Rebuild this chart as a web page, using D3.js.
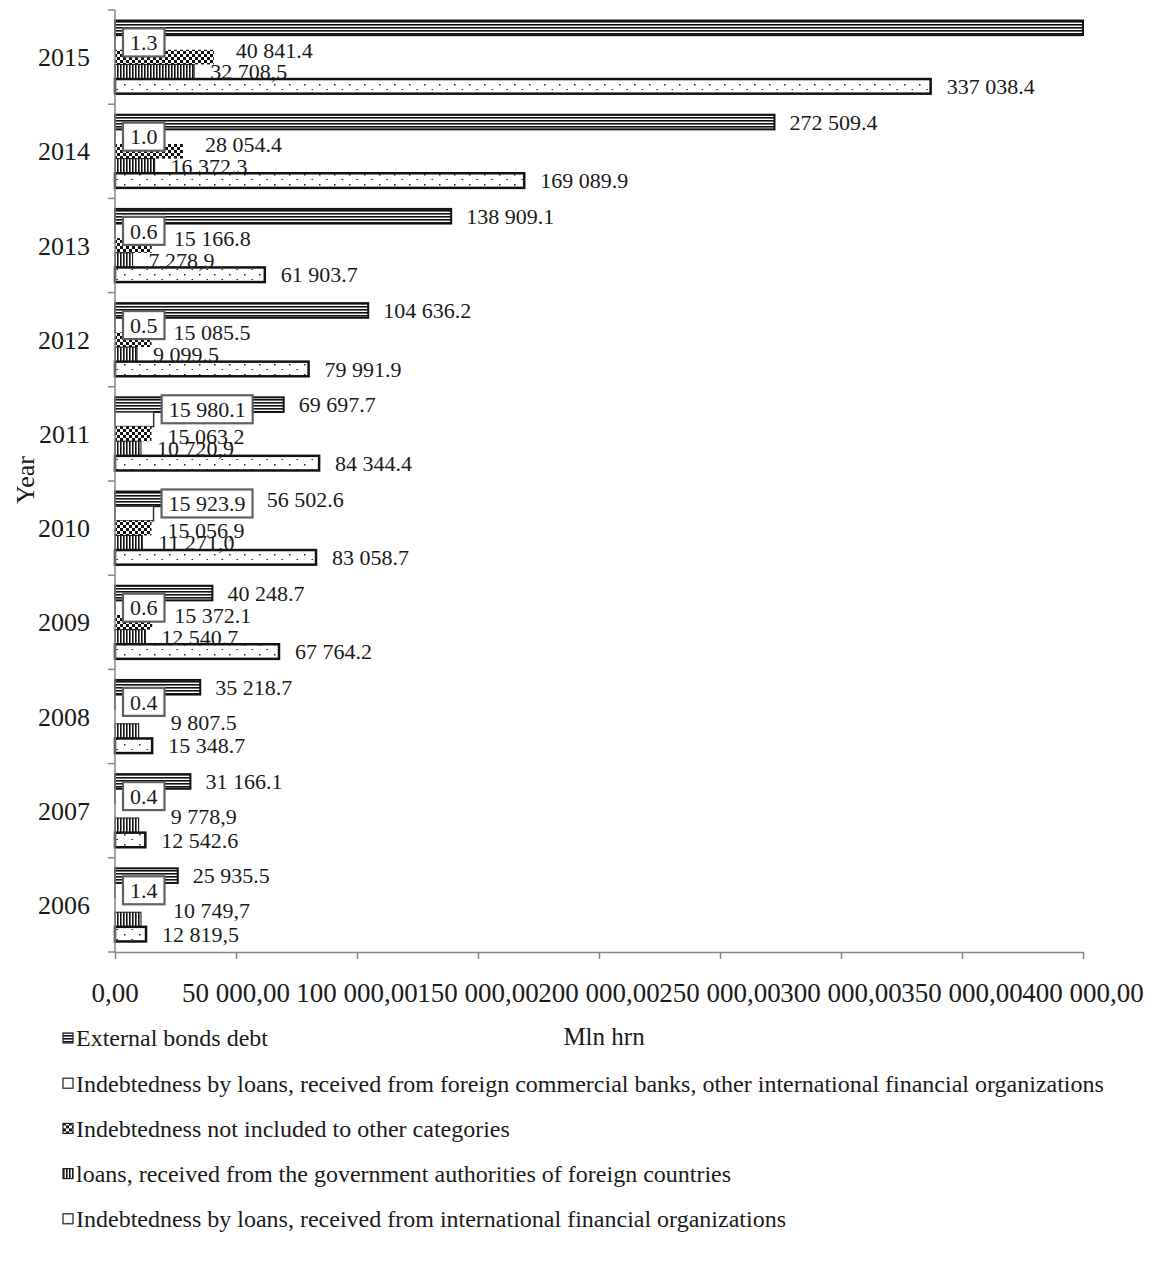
<!DOCTYPE html>
<html>
<head>
<meta charset="utf-8">
<script src="https://cdn.jsdelivr.net/npm/d3@7/dist/d3.min.js"></script>
<style>
  body { margin: 0; background: #fff; }
  svg text { font-family: "Liberation Serif", "Times New Roman", serif; fill: #1a1a1a; }
</style>
</head>
<body>
<div id="chart"></div>
<script>
// years, top to bottom as in the picture
var years = ["2015", "2014", "2013", "2012", "2011", "2010", "2009", "2008", "2007", "2006"];

var seriesNames = [
  "External bonds debt",
  "Indebtedness by loans, received from foreign commercial banks, other international financial organizations",
  "Indebtedness not included to other categories",
  "loans, received from the government authorities of foreign countries",
  "Indebtedness by loans, received from international financial organizations"
];

// values in mln hrn, same order as years (2015 ... 2006)
var externalBonds   = [400000, 272509.4, 138909.1, 104636.2, 69697.7, 56502.6, 40248.7, 35218.7, 31166.1, 25935.5];
var commercialBanks = [1.3, 1.0, 0.6, 0.5, 15980.1, 15923.9, 0.6, 0.4, 0.4, 1.4];
var notIncluded     = [40841.4, 28054.4, 15166.8, 15085.5, 15063.2, 15056.9, 15372.1, 0, 0, 0];
var govLoans        = [32708.5, 16372.3, 7278.9, 9099.5, 10720.9, 11271.0, 12540.7, 9807.5, 9778.9, 10749.7];
var intlOrgs        = [337038.4, 169089.9, 61903.7, 79991.9, 84344.4, 83058.7, 67764.2, 15348.7, 12542.6, 12819.5];

// data label texts as printed (2015 external bonds bar runs off the axis, no label)
var externalLabels   = ["", "272 509.4", "138 909.1", "104 636.2", "69 697.7", "56 502.6", "40 248.7", "35 218.7", "31 166.1", "25 935.5"];
var commercialLabels = ["1.3", "1.0", "0.6", "0.5", "15 980.1", "15 923.9", "0.6", "0.4", "0.4", "1.4"];
var notIncludedLabels = ["40 841.4", "28 054.4", "15 166.8", "15 085.5", "15 063,2", "15 056,9", "15 372.1", "", "", ""];
var govLoansLabels   = ["32 708,5", "16 372.3", "7 278,9", "9 099.5", "10 720,9", "11 271,0", "12 540.7", "9 807.5", "9 778,9", "10 749,7"];
var intlOrgsLabels   = ["337 038.4", "169 089.9", "61 903.7", "79 991.9", "84 344.4", "83 058.7", "67 764.2", "15 348.7", "12 542.6", "12 819,5"];

var xTicks = [0, 50000, 100000, 150000, 200000, 250000, 300000, 350000, 400000];

var series = [
  { key: "ext", name: seriesNames[0], values: externalBonds,   labels: externalLabels,    fill: "url(#pHoriz)", stroke: "#111", sw: 2,   dx: 15, dy: 0 },
  { key: "com", name: seriesNames[1], values: commercialBanks, labels: commercialLabels,  fill: "#fff",         stroke: "#333", sw: 1.5, dx: 8,  dy: 0 },
  { key: "oth", name: seriesNames[2], values: notIncluded,     labels: notIncludedLabels, fill: "url(#pCheck)", stroke: "none", sw: 0,   dx: 22, dy: -7 },
  { key: "gov", name: seriesNames[3], values: govLoans,        labels: govLoansLabels,    fill: "url(#pVert)",  stroke: "#111", sw: 1,   dx: 16, dy: 0 },
  { key: "ifo", name: seriesNames[4], values: intlOrgs,        labels: intlOrgsLabels,    fill: "url(#pDots)",  stroke: "#111", sw: 2.5, dx: 16, dy: 0 }
];

var width = 1150, height = 1269;
var labelSize = 22;
var svg = d3.select("#chart").append("svg")
  .attr("width", width)
  .attr("height", height);

// fill patterns
var defs = svg.append("defs");
var ph = defs.append("pattern").attr("id", "pHoriz").attr("patternUnits", "userSpaceOnUse").attr("width", 4).attr("height", 3);
ph.append("rect").attr("width", 4).attr("height", 3).attr("fill", "#fff");
ph.append("rect").attr("width", 4).attr("height", 1.6).attr("fill", "#111");

var pc = defs.append("pattern").attr("id", "pCheck").attr("patternUnits", "userSpaceOnUse").attr("width", 6).attr("height", 6);
pc.append("rect").attr("width", 6).attr("height", 6).attr("fill", "#fff");
pc.append("rect").attr("width", 3).attr("height", 3).attr("fill", "#111");
pc.append("rect").attr("x", 3).attr("y", 3).attr("width", 3).attr("height", 3).attr("fill", "#111");

var pv = defs.append("pattern").attr("id", "pVert").attr("patternUnits", "userSpaceOnUse").attr("width", 3).attr("height", 4);
pv.append("rect").attr("width", 3).attr("height", 4).attr("fill", "#fff");
pv.append("rect").attr("width", 1.6).attr("height", 4).attr("fill", "#111");

var pd = defs.append("pattern").attr("id", "pDots").attr("patternUnits", "userSpaceOnUse").attr("width", 15).attr("height", 10);
pd.append("rect").attr("width", 15).attr("height", 10).attr("fill", "#fff");
pd.append("rect").attr("x", 4).attr("y", 4).attr("width", 1.5).attr("height", 1.5).attr("fill", "#222");
pd.append("rect").attr("x", 11.5).attr("y", 9).attr("width", 1.5).attr("height", 1.5).attr("fill", "#222");

// scales
var x = d3.scaleLinear().domain([0, 400000]).range([115, 1083]).clamp(true);
var y0 = d3.scaleBand().domain(years).range([10, 952]).padding(0);
var y1 = d3.scaleBand().domain(series.map(function(s){ return s.key; }))
  .range([0, y0.bandwidth()]).paddingInner(0).paddingOuter(0.72);

function barMid(s, yr) { return y0(yr) + y1(s.key) + y1.bandwidth() / 2; }

// bars
series.forEach(function(s) {
  var g = svg.append("g").attr("class", "series-" + s.key);
  g.selectAll("rect")
    .data(years.map(function(yr, i){ return { year: yr, v: s.values[i] }; }).filter(function(d){ return d.v > 0; }))
    .enter().append("rect")
    .attr("x", x(0))
    .attr("y", function(d){ return y0(d.year) + y1(s.key); })
    .attr("width", function(d){ return x(d.v) - x(0); })
    .attr("height", y1.bandwidth())
    .attr("fill", s.fill)
    .attr("stroke", s.stroke)
    .attr("stroke-width", s.sw);
});

// axes
var axisColor = "#868686";
var xAxis = svg.append("g")
  .attr("transform", "translate(0,952)")
  .call(d3.axisBottom(x).tickValues(xTicks).tickSize(7).tickSizeOuter(0).tickFormat(""));
xAxis.selectAll("line, path").attr("stroke", axisColor).attr("stroke-width", 1.5);

var fmt = d3.format(",.2f");
svg.append("g").selectAll("text")
  .data(xTicks)
  .enter().append("text")
  .attr("x", function(d){ return x(d); })
  .attr("y", 1002)
  .attr("text-anchor", "middle")
  .style("font-size", "27px")
  .text(function(d){ return fmt(d).replace(/,/g, " ").replace(".", ","); });

var yAxis = svg.append("g");
yAxis.append("line")
  .attr("x1", x(0)).attr("x2", x(0))
  .attr("y1", 10).attr("y2", 952)
  .attr("stroke", axisColor).attr("stroke-width", 1.5);
yAxis.selectAll(".ytick")
  .data(years.concat(["end"]))
  .enter().append("line")
  .attr("class", "ytick")
  .attr("x1", x(0) - 7).attr("x2", x(0))
  .attr("y1", function(d){ return d === "end" ? 952 : y0(d); })
  .attr("y2", function(d){ return d === "end" ? 952 : y0(d); })
  .attr("stroke", axisColor).attr("stroke-width", 1.5);

svg.append("g").selectAll("text")
  .data(years)
  .enter().append("text")
  .attr("x", 90)
  .attr("y", function(d){ return y0(d) + y0.bandwidth() / 2; })
  .attr("dy", "0.35em")
  .attr("text-anchor", "end")
  .style("font-size", "26px")
  .text(function(d){ return d; });

// data labels
var labelLayer = svg.append("g").attr("class", "labels");
function addLabel(t, lx, cy) {
  return labelLayer.append("text")
    .attr("x", lx).attr("y", cy).attr("dy", "0.35em")
    .style("font-size", labelSize + "px")
    .text(t);
}

var sExt = series[0], sCom = series[1], sOth = series[2], sGov = series[3], sIfo = series[4];
years.forEach(function(yr, i) {
  // boxed label of the commercial banks series
  var boxX = x(sCom.values[i]) + sCom.dx;
  var probe = addLabel(sCom.labels[i], boxX + 7, 0);
  var tw = probe.node().getComputedTextLength();
  var boxW = tw + 14, boxH = 28;
  var othLabelX = x(sOth.values[i]) + sOth.dx;
  var crowded = sOth.values[i] > 0 && boxX + boxW > othLabelX;
  var boxMid = barMid(sCom, yr) + (crowded ? -10 : 0);
  labelLayer.insert("rect", "text")
    .attr("x", boxX).attr("y", boxMid - boxH / 2)
    .attr("width", boxW).attr("height", boxH)
    .attr("fill", "#fff").attr("stroke", "#606060").attr("stroke-width", 2.2);
  probe.attr("y", boxMid);

  if (sExt.labels[i]) addLabel(sExt.labels[i], x(sExt.values[i]) + sExt.dx, barMid(sExt, yr) + sExt.dy);
  if (sOth.labels[i]) {
    if (crowded) addLabel(sOth.labels[i], x(sOth.values[i]) + 16, barMid(sOth, yr) + 2);
    else addLabel(sOth.labels[i], othLabelX, barMid(sOth, yr) + sOth.dy);
  }
  // without the checker bar the gov loans label sits higher and further right
  if (sOth.values[i] > 0) addLabel(sGov.labels[i], x(sGov.values[i]) + sGov.dx, barMid(sGov, yr) + sGov.dy);
  else addLabel(sGov.labels[i], x(sGov.values[i]) + 32, barMid(sGov, yr) - 9);
  addLabel(sIfo.labels[i], x(sIfo.values[i]) + sIfo.dx, barMid(sIfo, yr) + sIfo.dy);
});

// axis titles
svg.append("text")
  .attr("x", 604).attr("y", 1045)
  .attr("text-anchor", "middle")
  .style("font-size", "25px")
  .text("Mln hrn");

svg.append("text")
  .attr("transform", "translate(34,480) rotate(-90)")
  .attr("text-anchor", "middle")
  .style("font-size", "26px")
  .text("Year");

// legend
var legend = svg.append("g").selectAll("g")
  .data(series)
  .enter().append("g")
  .attr("transform", function(d, i){ return "translate(63," + (1038 + i * 45.2) + ")"; });
legend.append("rect")
  .attr("x", 0).attr("y", -5)
  .attr("width", 10).attr("height", 10)
  .attr("fill", function(d){ return d.fill; })
  .attr("stroke", "#222").attr("stroke-width", 1.2);
legend.append("text")
  .attr("x", 13).attr("y", 0).attr("dy", "0.35em")
  .style("font-size", "24px")
  .text(function(d){ return d.name; });
</script>
</body>
</html>
